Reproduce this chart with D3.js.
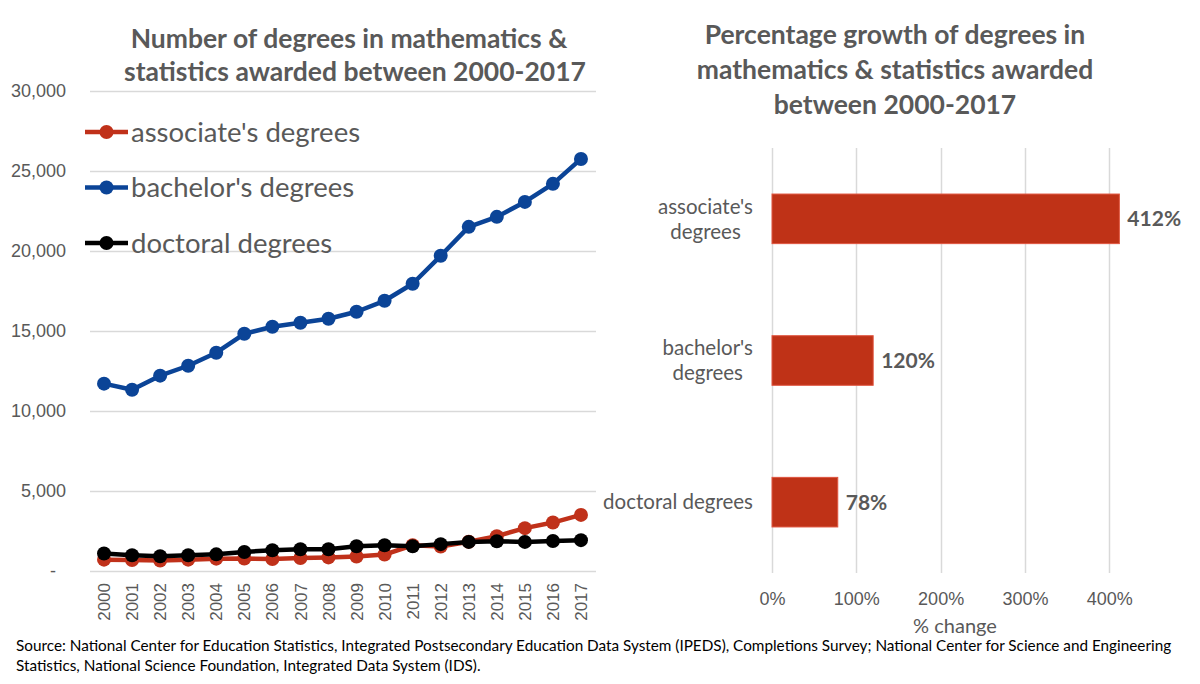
<!DOCTYPE html>
<html>
<head>
<meta charset="utf-8">
<script src="https://cdn.jsdelivr.net/npm/d3@7"></script>
<style>
  body { margin: 0; background: #fff; }
  svg { font-family: Lato, "Open Sans", sans-serif; }
</style>
</head>
<body>
<div id="chart"></div>
<script>
// data
var years = ["2000","2001","2002","2003","2004","2005","2006","2007","2008","2009",
             "2010","2011","2012","2013","2014","2015","2016","2017"];
var associate = [680, 650, 620, 680, 740, 750, 720, 780, 820, 880, 1000, 1580, 1500, 1800, 2150, 2650, 3000, 3480];
var bachelor = [11690, 11310, 12190, 12810, 13625, 14810, 15250, 15500, 15750, 16190, 16875, 17940, 19690, 21500, 22125, 23060, 24190, 25750];
var doctoral = [1060, 950, 890, 950, 1010, 1160, 1270, 1330, 1330, 1520, 1580, 1520, 1650, 1790, 1830, 1790, 1850, 1900];
var seriesNames = ["associate's degrees", "bachelor's degrees", "doctoral degrees"];
var yTicks = [0, 5000, 10000, 15000, 20000, 25000, 30000];

var growthCats = ["associate's degrees", "bachelor's degrees", "doctoral degrees"];
var growthLines = [["associate's", "degrees"], ["bachelor's", "degrees"], ["doctoral degrees"]];
var growth = [412, 120, 78];
var xTicks = [0, 100, 200, 300, 400];

var textCol = "#595959", gridCol = "#d9d9d9";
var colors = ["#c0311a", "#0b4497", "#000000"];

var svg = d3.select("#chart").append("svg")
  .attr("width", 1200).attr("height", 684);

/* ---------------- line chart ---------------- */
var x = d3.scaleBand().domain(years).range([90, 595]).padding(0);
var y = d3.scaleLinear().domain([0, 30000]).range([570.5, 91]);

var left = svg.append("g");

// gridlines
left.append("g").selectAll("line")
  .data(yTicks)
  .enter().append("line")
  .attr("x1", 90).attr("x2", 596)
  .attr("y1", function(d) { return Math.round(y(d)) + 0.5; })
  .attr("y2", function(d) { return Math.round(y(d)) + 0.5; })
  .attr("stroke", gridCol).attr("stroke-width", 1.5);

// y labels
var yAxis = left.append("g")
  .attr("transform", "translate(66,0)")
  .call(d3.axisLeft(y).tickValues(yTicks).tickSize(0).tickPadding(0)
    .tickFormat(function(d) { return d === 0 ? "-" : d3.format(",")(d); }));
yAxis.select(".domain").remove();
yAxis.selectAll("text").attr("fill", textCol).style("font-size", "18px").attr("font-family", null)
  .attr("dx", function(d) { return d === 0 ? "-10" : 0; });

// x labels
var xAxis = left.append("g")
  .attr("transform", "translate(0,572)")
  .call(d3.axisBottom(x).tickSize(0).tickPadding(0));
xAxis.select(".domain").remove();
xAxis.selectAll("text")
  .attr("fill", textCol).style("font-size", "17px").attr("font-family", null)
  .attr("transform", "rotate(-90)")
  .attr("text-anchor", "end")
  .attr("x", -11).attr("y", 0).attr("dy", "0.36em");

// lines + markers
var allSeries = [associate, bachelor, doctoral];
var line = d3.line()
  .x(function(d, i) { return x(years[i]) + x.bandwidth() / 2; })
  .y(function(d) { return y(d); });

allSeries.forEach(function(vals, k) {
  left.append("path")
    .datum(vals)
    .attr("d", line)
    .attr("fill", "none")
    .attr("stroke", colors[k])
    .attr("stroke-width", 4.5)
    .attr("stroke-linejoin", "round");
  left.selectAll(".dot" + k)
    .data(vals)
    .enter().append("circle")
    .attr("cx", function(d, i) { return x(years[i]) + x.bandwidth() / 2; })
    .attr("cy", function(d) { return y(d); })
    .attr("r", 7)
    .attr("fill", colors[k]);
});

// legend
var legend = left.selectAll(".legend")
  .data(seriesNames)
  .enter().append("g")
  .attr("transform", function(d, i) { return "translate(85," + (132 + i * 55.5) + ")"; });
legend.append("line")
  .attr("x1", 0).attr("x2", 43)
  .attr("stroke", function(d, i) { return colors[i]; })
  .attr("stroke-width", 4.5);
legend.append("circle")
  .attr("cx", 21.5).attr("r", 7)
  .attr("fill", function(d, i) { return colors[i]; });
legend.append("text")
  .attr("x", 46).attr("dy", "0.35em")
  .attr("fill", textCol).style("font-size", "27.5px")
  .text(function(d) { return d; });

// title
var t1 = left.append("text").attr("x", 350).attr("y", 48)
  .attr("text-anchor", "middle").attr("fill", textCol)
  .style("font-size", "26.5px").style("font-weight", "bold");
t1.append("tspan").attr("x", 349).text("Number of degrees in mathematics &");
t1.append("tspan").attr("x", 355).attr("dy", 33).text("statistics awarded between 2000-2017");

/* ---------------- bar chart ---------------- */
var xb = d3.scaleLinear().domain([0, 450]).range([772, 1151.4]);
var yb = d3.scaleBand().domain(growthCats).range([148, 573]).paddingInner(0.65).paddingOuter(0.325);

var right = svg.append("g");

right.append("g").selectAll("line")
  .data(xTicks)
  .enter().append("line")
  .attr("x1", function(d) { return Math.round(xb(d)) + 0.5; })
  .attr("x2", function(d) { return Math.round(xb(d)) + 0.5; })
  .attr("y1", 148).attr("y2", 573)
  .attr("stroke", gridCol).attr("stroke-width", 1.5);

var xbAxis = right.append("g")
  .attr("transform", "translate(0,599)")
  .call(d3.axisBottom(xb).tickValues(xTicks).tickSize(0).tickPadding(0)
    .tickFormat(function(d) { return d + "%"; }));
xbAxis.select(".domain").remove();
xbAxis.selectAll("text").attr("fill", textCol).style("font-size", "18px")
  .attr("font-family", null).attr("y", 0).attr("dy", "0.35em");

right.append("text")
  .attr("x", 955).attr("y", 633)
  .attr("text-anchor", "middle").attr("fill", textCol)
  .style("font-size", "20px")
  .text("% change");

right.selectAll(".bar")
  .data(growth)
  .enter().append("rect")
  .attr("x", xb(0))
  .attr("y", function(d, i) { return yb(growthCats[i]); })
  .attr("width", function(d) { return xb(d) - xb(0); })
  .attr("height", yb.bandwidth())
  .attr("fill", "#bf3217")
  .attr("stroke", "#e0553f").attr("stroke-width", 1);

right.selectAll(".val")
  .data(growth)
  .enter().append("text")
  .attr("x", function(d) { return xb(d) + 8; })
  .attr("y", function(d, i) { return yb(growthCats[i]) + yb.bandwidth() / 2; })
  .attr("dy", "0.35em")
  .attr("fill", textCol).style("font-size", "21px").style("font-weight", "bold")
  .text(function(d) { return d + "%"; });

// category labels: right-aligned block, lines centred inside it
growthLines.forEach(function(lines, i) {
  var cy = yb(growthCats[i]) + yb.bandwidth() / 2;
  var g = right.append("text")
    .attr("fill", textCol).style("font-size", "20.5px")
    .attr("text-anchor", "middle");
  lines.forEach(function(s, j) {
    g.append("tspan").attr("y", cy + (j - (lines.length - 1) / 2) * 25).attr("dy", "0.35em").text(s);
  });
  var w = d3.max(g.selectAll("tspan").nodes(), function(n) { return n.getComputedTextLength(); });
  g.selectAll("tspan").attr("x", 753 - w / 2);
});

var t2 = right.append("text").attr("text-anchor", "middle").attr("fill", textCol)
  .style("font-size", "26.5px").style("font-weight", "bold");
t2.append("tspan").attr("x", 895).attr("y", 44).text("Percentage growth of degrees in");
t2.append("tspan").attr("x", 895).attr("y", 79).text("mathematics & statistics awarded");
t2.append("tspan").attr("x", 895).attr("y", 114).text("between 2000-2017");

/* ---------------- source ---------------- */
svg.append("text").attr("x", 16).attr("y", 651)
  .attr("fill", "#000").style("font-size", "15.3px")
  .text("Source: National Center for Education Statistics, Integrated Postsecondary Education Data System (IPEDS), Completions Survey; National Center for Science and Engineering");
svg.append("text").attr("x", 16).attr("y", 671)
  .attr("fill", "#000").style("font-size", "15.3px")
  .text("Statistics, National Science Foundation, Integrated Data System (IDS).");
</script>
</body>
</html>
